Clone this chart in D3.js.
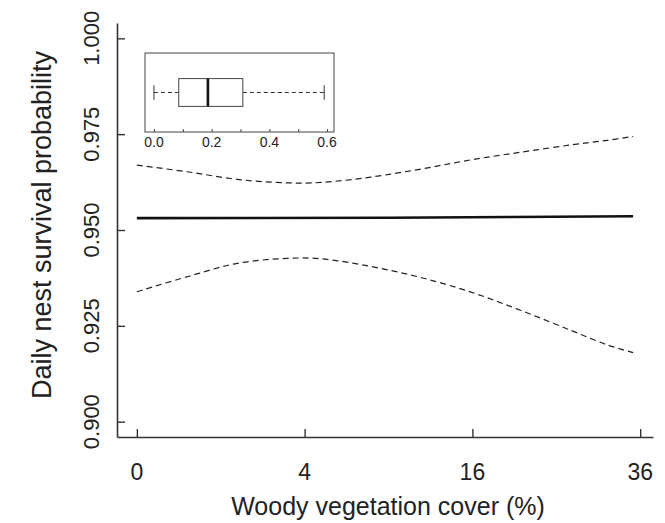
<!DOCTYPE html>
<html>
<head>
<meta charset="utf-8">
<script src="https://cdn.jsdelivr.net/npm/d3@7"></script>
<style>
  body { margin: 0; background: #fff; }
  text { font-family: "Liberation Sans", Arial, sans-serif; fill: #222; }
</style>
</head>
<body>
<svg id="chart" width="665" height="523"></svg>
<script>
// woody cover (%) and predicted daily nest survival
var coverX   = [0, 0.36, 1.43, 3.21, 4.8, 7.77, 11.46, 15.86, 20.97, 26.8, 31.5, 35];
var upperCI  = [0.9669, 0.9652, 0.9632, 0.9623, 0.9624, 0.9638, 0.9659, 0.9683, 0.9703, 0.9722, 0.9734, 0.9744];
var lowerCI  = [0.9339, 0.9378, 0.9413, 0.9426, 0.9425, 0.9405, 0.9376, 0.9338, 0.9290, 0.9238, 0.9200, 0.9180];
var meanX    = [0, 9, 20, 35];
var meanDSR  = [0.9531, 0.9532, 0.9534, 0.9536];

var xTicks = [0, 4, 16, 36];
var yTicks = [0.900, 0.925, 0.950, 0.975, 1.000];

// inset boxplot of woody cover proportion
var boxStats = {min: 0, q1: 0.086, med: 0.187, q3: 0.308, max: 0.59};
var insetTicks = [0, 0.1, 0.2, 0.3, 0.4, 0.5, 0.6];
var insetLabels = [0, 0.2, 0.4, 0.6];

var svg = d3.select("#chart");

var s = Math.sqrt(35);
var x = d3.scaleSqrt()
  .domain([-Math.pow(0.04 * s, 2), Math.pow(1.04 * s, 2)])
  .range([117, 653]);
var y = d3.scaleLinear().domain([0.896, 1.004]).range([437, 23]);

var axisCol = "#333";

// axes (ticks inward like the original)
svg.append("g").attr("transform", "translate(0,437)")
  .call(d3.axisBottom(x).tickValues(xTicks).tickSize(-8).tickSizeOuter(0).tickFormat(""));
svg.append("g").attr("transform", "translate(117,0)")
  .call(d3.axisLeft(y).tickValues(yTicks).tickSize(-8).tickSizeOuter(0).tickFormat(""));
svg.selectAll(".domain").attr("stroke", axisCol).attr("stroke-width", 1.6);
svg.selectAll(".tick line").attr("stroke", axisCol).attr("stroke-width", 1.4);

svg.selectAll(".xlab").data(xTicks).enter().append("text")
  .attr("x", function(d) { return x(d); })
  .attr("y", 480)
  .attr("text-anchor", "middle")
  .style("font-size", "23px")
  .text(function(d) { return d; });

svg.selectAll(".ylab").data(yTicks).enter().append("text")
  .attr("transform", function(d) { return "translate(99," + y(d) + ") rotate(-90)"; })
  .attr("text-anchor", "middle")
  .style("font-size", "22px")
  .text(function(d) { return d3.format(".3f")(d); });

svg.append("text")
  .attr("x", 388).attr("y", 515)
  .attr("text-anchor", "middle")
  .style("font-size", "25px")
  .text("Woody vegetation cover (%)");

svg.append("text")
  .attr("transform", "translate(51,225) rotate(-90)")
  .attr("text-anchor", "middle")
  .style("font-size", "27px")
  .text("Daily nest survival probability");

// curves
var line = d3.line()
  .x(function(d) { return x(d[0]); })
  .y(function(d) { return y(d[1]); })
  .curve(d3.curveCatmullRom);

svg.append("path")
  .datum(d3.zip(coverX, upperCI))
  .attr("d", line)
  .attr("fill", "none").attr("stroke", "#222")
  .attr("stroke-width", 1.2).attr("stroke-dasharray", "6,4");

svg.append("path")
  .datum(d3.zip(coverX, lowerCI))
  .attr("d", line)
  .attr("fill", "none").attr("stroke", "#222")
  .attr("stroke-width", 1.2).attr("stroke-dasharray", "6,4");

svg.append("path")
  .datum(d3.zip(meanX, meanDSR))
  .attr("d", d3.line().x(function(d) { return x(d[0]); }).y(function(d) { return y(d[1]); }))
  .attr("fill", "none").attr("stroke", "#111")
  .attr("stroke-width", 2.6);

// inset
var ix = d3.scaleLinear().domain([-0.031, 0.624]).range([145, 334]);
var iy = d3.scaleLinear().domain([0.46, 1.54]).range([132, 53]);
var inset = svg.append("g");

inset.append("rect")
  .attr("x", ix(-0.031)).attr("y", iy(1.54))
  .attr("width", ix(0.624) - ix(-0.031)).attr("height", iy(0.46) - iy(1.54))
  .attr("fill", "none").attr("stroke", "#444").attr("stroke-width", 1);

inset.append("g").attr("transform", "translate(0," + iy(0.46) + ")")
  .call(d3.axisBottom(ix).tickValues(insetTicks).tickSize(-3).tickSizeOuter(0).tickFormat(""))
  .call(function(g) { g.select(".domain").remove(); })
  .selectAll("line").attr("stroke", "#444");

inset.selectAll(".ilab").data(insetLabels).enter().append("text")
  .attr("x", function(d) { return ix(d); })
  .attr("y", 147)
  .attr("text-anchor", "middle")
  .style("font-size", "14px")
  .text(function(d) { return d3.format(".1f")(d); });

// whiskers
inset.selectAll(".wh").data([[boxStats.min, boxStats.q1], [boxStats.q3, boxStats.max]]).enter()
  .append("line")
  .attr("x1", function(d) { return ix(d[0]); }).attr("x2", function(d) { return ix(d[1]); })
  .attr("y1", iy(1)).attr("y2", iy(1))
  .attr("stroke", "#333").attr("stroke-width", 1).attr("stroke-dasharray", "4,3");
inset.selectAll(".cap").data([boxStats.min, boxStats.max]).enter()
  .append("line")
  .attr("x1", function(d) { return ix(d); }).attr("x2", function(d) { return ix(d); })
  .attr("y1", iy(0.9)).attr("y2", iy(1.1))
  .attr("stroke", "#333").attr("stroke-width", 1);
inset.append("rect")
  .attr("x", ix(boxStats.q1)).attr("y", iy(1.19))
  .attr("width", ix(boxStats.q3) - ix(boxStats.q1)).attr("height", iy(0.81) - iy(1.19))
  .attr("fill", "#fff").attr("stroke", "#444").attr("stroke-width", 1);
inset.append("line")
  .attr("x1", ix(boxStats.med)).attr("x2", ix(boxStats.med))
  .attr("y1", iy(1.19)).attr("y2", iy(0.81))
  .attr("stroke", "#111").attr("stroke-width", 2.6);
</script>
</body>
</html>
